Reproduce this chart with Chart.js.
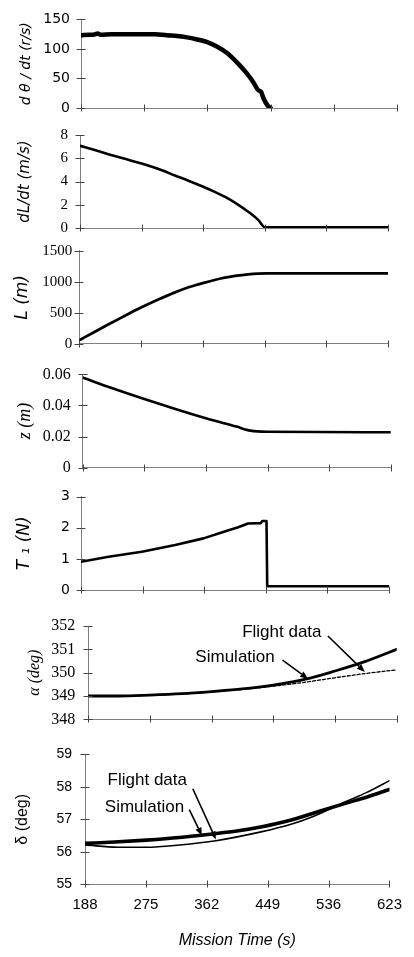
<!DOCTYPE html>
<html><head><meta charset="utf-8">
<script src="https://cdn.jsdelivr.net/npm/chart.js@4.4.0/dist/chart.umd.min.js"></script>
<style>
html,body{margin:0;padding:0;background:#fff;}
#wrap{position:relative;width:414px;height:957px;}
canvas{position:absolute;left:0;top:0;}
</style></head><body><div id="wrap">
<canvas id="c1" width="414" height="957"></canvas>
<canvas id="c2" width="414" height="957"></canvas>
<canvas id="c3" width="414" height="957"></canvas>
<canvas id="c4" width="414" height="957"></canvas>
<canvas id="c5" width="414" height="957"></canvas>
<canvas id="c6" width="414" height="957"></canvas>
<canvas id="c7" width="414" height="957"></canvas>
</div>
<script>
// ---- data (mission time in s) ----
const missionTimeTicks = [188, 275, 362, 449, 536, 623];

const spinTime = [188,200,205,211,215,230,250,270,290,306,320,334,348,361,375,389,402,416,425,432,436,439,445,449];
const spinRate = [123,124,124,126,124,125,125,125,125,123,122,119.6,116,112,104,93,78,59,44,30,27,17,4,0];

const dLdtTime = [188,210,228,250,275,300,322,342,362,380,393,410,426,440,449,623];
const dLdtVal  = [7.07,6.68,6.35,5.97,5.55,5.05,4.52,4.05,3.55,3.06,2.67,2.06,1.38,0.68,0.06,0.06];

const lenTime = [188,210,228,250,275,300,322,342,362,380,393,410,426,440,452,623];
const lenVal  = [60,198,308,440,585,718,826,912,980,1033,1066,1099,1120,1132,1137,1137];

const zTime = [188,230,275,320,362,405,425,449,623];
const zVal  = [0.0579,0.051,0.0441,0.0375,0.0317,0.0264,0.0238,0.0231,0.0228];

const tensionTime = [188,227,274,321,361,391,410,424,442,444,450,451,623];
const tensionVal  = [0.91,1.07,1.23,1.45,1.66,1.88,2.02,2.14,2.15,2.22,2.22,0.12,0.12];

const alphaSimTime = [188,230,275,320,362,405,449,496,536,578,623];
const alphaSimVal  = [349.0,349.0,349.04,349.1,349.19,349.3,349.47,349.73,350.07,350.47,351.0];
const alphaFltTime = [188,275,362,449,496,536,578,623];
const alphaFltVal  = [349.0,349.03,349.17,349.42,349.6,349.78,349.96,350.12];

const deltaSimTime = [188,230,276,323,370,405,441,480,513,560,590,623];
const deltaSimVal  = [56.26,56.3,56.36,56.44,56.55,56.64,56.77,56.96,57.18,57.49,57.68,57.92];
const deltaFltTime = [188,235,276,323,375,441,480,513,560,590,623];
const deltaFltVal  = [56.21,56.14,56.14,56.21,56.34,56.62,56.83,57.08,57.54,57.82,58.19];

// annotation anchors in data space: label centre, arrow tail, arrow tip
const alphaNotes = [
  {text:'Flight data', t:461, v:351.74, t0:526, v0:351.57, t1:578, v1:350.03},
  {text:'Simulation',  t:395, v:350.67, t0:462, v0:350.54, t1:498, v1:349.73}
];
const deltaNotes = [
  {text:'Flight data', t:277, v:58.2, t0:342, v0:57.94, t1:375, v1:56.38},
  {text:'Simulation',  t:273, v:57.37, t0:337, v0:57.3, t1:355, v1:56.5}
];

// ---- helpers ----
function pts(xs, ys){ return xs.map((x,i)=>({x:x, y:ys[i]})); }

const crossTicks = {
  id:'crossTicks',
  afterDraw(chart){
    const {ctx} = chart; const x = chart.scales.x, y = chart.scales.y;
    ctx.save(); ctx.strokeStyle='#444'; ctx.lineWidth=1;
    const ax = Math.round(y.right)+0.5, ay = Math.round(x.top)+0.5;
    y.ticks.forEach(t=>{ const p=Math.round(y.getPixelForValue(t.value))+0.5;
      ctx.beginPath(); ctx.moveTo(ax-5,p); ctx.lineTo(ax+4,p); ctx.stroke(); });
    x.ticks.forEach(t=>{ const p=Math.round(x.getPixelForValue(t.value))+0.5;
      ctx.beginPath(); ctx.moveTo(p,ay-4); ctx.lineTo(p,ay+3); ctx.stroke(); });
    ctx.restore();
  }
};

function notesPlugin(notes){
  return {
    id:'notes',
    afterDatasetsDraw(chart){
      const {ctx} = chart; const x = chart.scales.x, y = chart.scales.y;
      ctx.save();
      ctx.fillStyle='#000'; ctx.strokeStyle='#000';
      ctx.font='17px "Liberation Sans", Arial, sans-serif';
      ctx.textAlign='center'; ctx.textBaseline='middle';
      notes.forEach(n=>{
        ctx.fillText(n.text, x.getPixelForValue(n.t), y.getPixelForValue(n.v));
        const x0=x.getPixelForValue(n.t0), y0=y.getPixelForValue(n.v0);
        const x1=x.getPixelForValue(n.t1), y1=y.getPixelForValue(n.v1);
        const a=Math.atan2(y1-y0,x1-x0), hl=8, hw=3.2;
        const bx=x1-hl*Math.cos(a), by=y1-hl*Math.sin(a);
        ctx.lineWidth=1.6;
        ctx.beginPath(); ctx.moveTo(x0,y0); ctx.lineTo(bx,by); ctx.stroke();
        ctx.beginPath(); ctx.moveTo(x1,y1);
        ctx.lineTo(bx+hw*Math.sin(a), by-hw*Math.cos(a));
        ctx.lineTo(bx-hw*Math.sin(a), by+hw*Math.cos(a));
        ctx.closePath(); ctx.fill();
      });
      ctx.restore();
    }
  };
}

function panel(id, area, datasets, yopt, ttl, extraPlugins, showX){
  const H = 957;
  const xScale = {
    type:'linear', min:188, max:623,
    afterBuildTicks(s){ s.ticks = missionTimeTicks.map(v=>({value:v})); },
    afterFit(s){ s.height = H - area.B; },
    border:{display:true, color:'#808080', width:1},
    grid:{display:true, drawOnChartArea:false, drawTicks:false},
    ticks:{display:!!showX, padding:12, color:'#000', maxRotation:0, autoSkip:false,
      font:{family:'"Liberation Sans", Arial, sans-serif', size:15}},
    title: showX ? {display:true, text:'Mission Time (s)', color:'#000', padding:{top:0,bottom:6.5},
      font:{family:'"Liberation Sans", Arial, sans-serif', size:16, style:'italic'}} : {display:false}
  };
  const yScale = {
    type:'linear', min:yopt.min, max:yopt.max,
    afterFit(s){ s.width = area.L; },
    border:{display:true, color:'#808080', width:1},
    grid:{display:true, drawOnChartArea:false, drawTicks:false},
    ticks:{stepSize:yopt.step, padding:yopt.pad, color:'#000', font:yopt.font,
      callback:v=>String(Number(v.toFixed(6)))},
    title:{display:true, text:ttl.text, color:'#000', font:ttl.font, padding:{top:ttl.pad, bottom:0}}
  };
  return new Chart(document.getElementById(id), {
    type:'line',
    data:{datasets},
    options:{
      responsive:false, animation:false, events:[],
      layout:{padding:{left:0, top:area.T, right:414-area.R, bottom:0}},
      plugins:{legend:{display:false}, tooltip:{enabled:false}},
      elements:{point:{radius:0}, line:{cubicInterpolationMode:'monotone', borderCapStyle:'round', borderJoinStyle:'round'}},
      scales:{x:xScale, y:yScale}
    },
    plugins:[crossTicks].concat(extraPlugins||[])
  });
}

const sans = s=>({family:'"DejaVu Sans", Verdana, sans-serif', size:s});
const sansI = s=>({family:'"DejaVu Sans", Verdana, sans-serif', size:s, style:'italic'});
const serif = s=>({family:'"Liberation Serif", "Times New Roman", serif', size:s});
const serifI = s=>({family:'"Liberation Serif", "Times New Roman", serif', size:s, style:'italic'});
const arial = s=>({family:'"Liberation Sans", Arial, sans-serif', size:s});

panel('c1', {L:81, R:397, T:12, B:108},
  [{label:'dθ/dt', data:pts(spinTime, spinRate), borderColor:'#000', borderWidth:4.5}],
  {min:0, max:150, step:50, pad:11, font:sans(14)},
  {text:'d θ / dt (r/s)', font:sansI(14), pad:18});

panel('c2', {L:80, R:388, T:135, B:228},
  [{label:'dL/dt', data:pts(dLdtTime, dLdtVal), borderColor:'#000', borderWidth:2.6}],
  {min:0, max:8, step:2, pad:12, font:serif(15)},
  {text:'dL/dt (m/s)', font:sansI(15), pad:16});

panel('c3', {L:79.3, R:388, T:250.7, B:344},
  [{label:'L', data:pts(lenTime, lenVal), borderColor:'#000', borderWidth:2.8}],
  {min:0, max:1500, step:500, pad:7, font:serif(15)},
  {text:'L (m)', font:sansI(17), pad:12});

panel('c4', {L:82.7, R:390.7, T:374.3, B:467.7},
  [{label:'z', data:pts(zTime, zVal), borderColor:'#000', borderWidth:2.6}],
  {min:0, max:0.06, step:0.02, pad:12, font:serif(16)},
  {text:'z (m)', font:serifI(18), pad:14});

panel('c5', {L:81, R:389, T:496.7, B:590},
  [{label:'T1', data:pts(tensionTime, tensionVal), borderColor:'#000', borderWidth:2.6, cubicInterpolationMode:'default', tension:0}],
  {min:0, max:3, step:1, pad:11, font:sans(14)},
  {text:'T ₁ (N)', font:sansI(17), pad:14});

panel('c6', {L:88.3, R:396.7, T:626, B:719.3},
  [{label:'Simulation', data:pts(alphaSimTime, alphaSimVal), borderColor:'#000', borderWidth:2.8},
   {label:'Flight data', data:pts(alphaFltTime, alphaFltVal), borderColor:'#000', borderWidth:1.3, borderDash:[3,2]}],
  {min:348, max:352, step:1, pad:13, font:serif(16)},
  {text:'α (deg)', font:serifI(16), pad:25}, [notesPlugin(alphaNotes)]);

panel('c7', {L:85, R:391, T:754.3, B:884.3},
  [{label:'Simulation', data:pts(deltaSimTime, deltaSimVal), borderColor:'#000', borderWidth:3.6},
   {label:'Flight data', data:pts(deltaFltTime, deltaFltVal), borderColor:'#000', borderWidth:1.6}],
  {min:55, max:59, step:1, pad:13, font:arial(14)},
  {text:'δ (deg)', font:arial(16), pad:13}, [notesPlugin(deltaNotes)], true);
</script>
</body></html>
